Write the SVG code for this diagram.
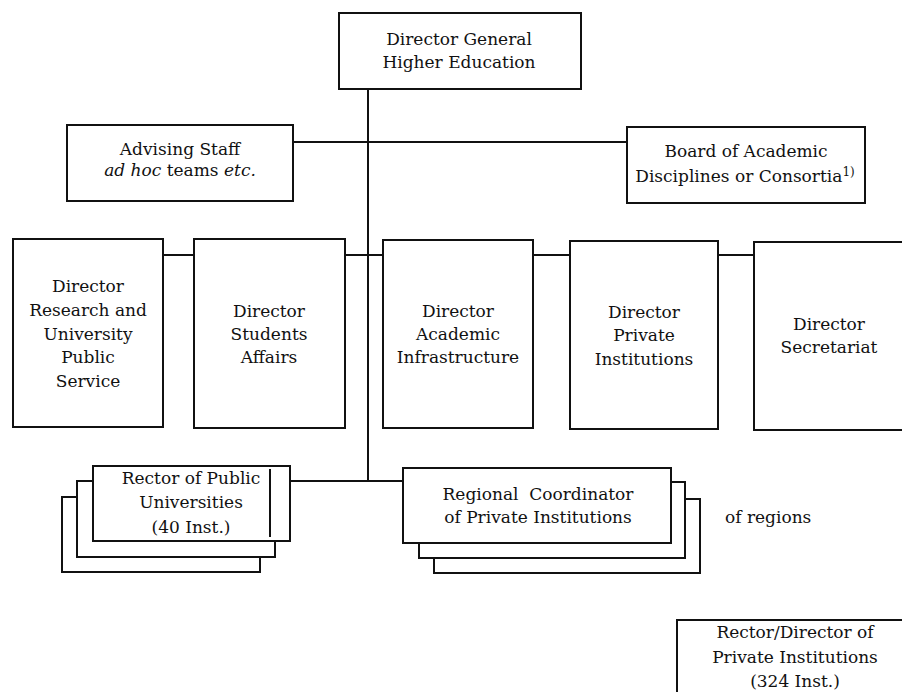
<svg xmlns="http://www.w3.org/2000/svg" width="902" height="692" viewBox="0 0 902 692">
<style>
.box{fill:#fff;stroke:#111;stroke-width:2}
.ln{fill:none;stroke:#111;stroke-width:2}
text{font-family:"DejaVu Serif","Liberation Serif",serif;font-size:17px;fill:#111;text-anchor:middle}
.it{font-style:italic}
.lt{text-anchor:start}
.pre{white-space:pre}
</style>
<rect width="902" height="692" fill="#fff"/>
<g id="connectors">
<line class="ln" x1="368" y1="89" x2="368" y2="481"/>
<line class="ln" x1="293" y1="142" x2="627" y2="142"/>
<line class="ln" x1="163" y1="255" x2="194" y2="255"/>
<line class="ln" x1="345" y1="255" x2="383" y2="255"/>
<line class="ln" x1="533" y1="255" x2="570" y2="255"/>
<line class="ln" x1="718" y1="255" x2="754" y2="255"/>
<line class="ln" x1="290" y1="481" x2="403" y2="481"/>
</g>
<g id="director-general">
<rect class="box" x="339" y="13" width="242" height="76"/>
<text x="459" y="45">Director General</text>
<text x="459" y="68">Higher Education</text>
</g>
<g id="advising-staff">
<rect class="box" x="67" y="125" width="226" height="76"/>
<text x="180" y="155">Advising Staff</text>
<text x="180" y="176"><tspan class="it">ad hoc</tspan> teams <tspan class="it">etc.</tspan></text>
</g>
<g id="board-academic">
<rect class="box" x="627" y="127" width="238" height="76"/>
<text x="746" y="157">Board of Academic</text>
<text x="745" y="182">Disciplines or Consortia<tspan font-size="12" dy="-6">1)</tspan></text>
</g>
<g id="dir-research">
<rect class="box" x="13" y="239" width="150" height="188"/>
<text x="88" y="292">Director</text>
<text x="88" y="316">Research and</text>
<text x="88" y="340">University</text>
<text x="88" y="363">Public</text>
<text x="88" y="387">Service</text>
</g>
<g id="dir-students">
<rect class="box" x="194" y="239" width="151" height="189"/>
<text x="269" y="317">Director</text>
<text x="269" y="340">Students</text>
<text x="269" y="363">Affairs</text>
</g>
<g id="dir-infrastructure">
<rect class="box" x="383" y="240" width="150" height="188"/>
<text x="458" y="317">Director</text>
<text x="458" y="340">Academic</text>
<text x="458" y="363">Infrastructure</text>
</g>
<g id="dir-private">
<rect class="box" x="570" y="241" width="148" height="188"/>
<text x="644" y="318">Director</text>
<text x="644" y="341">Private</text>
<text x="644" y="365">Institutions</text>
</g>
<g id="dir-secretariat">
<rect class="box" x="754" y="242" width="152" height="188"/>
<text x="829" y="330">Director</text>
<text x="829" y="353">Secretariat</text>
</g>
<g id="rector-public">
<rect class="box" x="62" y="497" width="198" height="75"/>
<rect class="box" x="77" y="481" width="198" height="76"/>
<rect class="box" x="93" y="466" width="197" height="75"/>
<line class="ln" x1="270" y1="469" x2="270" y2="537"/>
<text x="191" y="484">Rector of Public</text>
<text x="191" y="508">Universities</text>
<text x="191" y="533">(40 Inst.)</text>
</g>
<g id="regional-coordinator">
<rect class="box" x="434" y="499" width="266" height="74"/>
<rect class="box" x="419" y="482" width="266" height="76"/>
<rect class="box" x="403" y="468" width="268" height="75"/>
<text class="pre" x="538" y="500">Regional  Coordinator</text>
<text x="538" y="523">of Private Institutions</text>
</g>
<g id="of-regions">
<text class="lt" x="725" y="523">of regions</text>
</g>
<g id="rector-private">
<rect class="box" x="677" y="620" width="240" height="90"/>
<text x="795" y="638">Rector/Director of</text>
<text x="795" y="663">Private Institutions</text>
<text x="795" y="687">(324 Inst.)</text>
</g>
</svg>
